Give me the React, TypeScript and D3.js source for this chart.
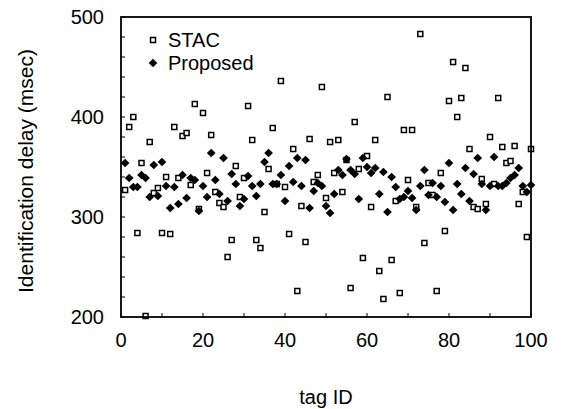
import React from "react";
import * as d3 from "d3";

const tagIds: number[] = Array.from({ length: 100 }, (_, i) => i + 1);

const stacValues: number[] = [
  327, 390, 400, 284, 354, 201, 375, 324, 329, 284,
  340, 283, 390, 339, 381, 384, 332, 413, 308, 404,
  344, 382, 325, 314, 310, 260, 277, 351, 320, 339,
  411, 377, 277, 269, 305, 348, 389, 333, 436, 330,
  283, 368, 226, 311, 275, 378, 335, 342, 430, 319,
  375, 344, 377, 325, 357, 229, 395, 348, 259, 361,
  310, 377, 246, 218, 420, 257, 316, 224, 387, 337,
  387, 310, 483, 274, 334, 322, 226, 344, 286, 416,
  455, 400, 419, 449, 368, 310, 308, 338, 313, 380,
  333, 419, 370, 354, 356, 371, 313, 325, 280, 368,
];

const proposedValues: number[] = [
  354, 339, 330, 330, 342, 339, 320, 352, 321, 355,
  331, 309, 330, 313, 342, 319, 339, 337, 306, 331,
  320, 364, 337, 323, 359, 316, 343, 333, 311, 318,
  341, 331, 321, 333, 355, 364, 333, 333, 342, 316,
  351, 335, 359, 331, 357, 309, 326, 334, 331, 311,
  304, 323, 347, 342, 358, 347, 343, 318, 359, 350,
  344, 349, 323, 345, 305, 340, 330, 318, 320, 326,
  319, 307, 331, 347, 322, 334, 320, 331, 315, 354,
  307, 333, 323, 349, 316, 343, 359, 333, 307, 331,
  360, 331, 331, 334, 339, 342, 349, 331, 325, 332,
];

const xTickLabels: number[] = [0, 20, 40, 60, 80, 100];
const yTickLabels: number[] = [200, 300, 400, 500];
const seriesNames: string[] = ["STAC", "Proposed"];

export default function App() {
  const W = 561;
  const H = 409;
  const left = 121;
  const right = 531;
  const top = 17;
  const bottom = 317;

  const x = d3.scaleLinear().domain([0, 100]).range([left, right]);
  const y = d3.scaleLinear().domain([200, 500]).range([bottom, top]);

  const squarePath = d3.symbol(d3.symbolSquare, 25)() as string;
  const diamondPath = d3.symbol(d3.symbolSquare, 38)() as string;

  const xMinor = d3.range(0, 101, 10);
  const yMinor = d3.range(200, 501, 20);

  const font = "'Liberation Sans', Arial, sans-serif";
  const fs = 20;

  return (
    <svg
      width={W}
      height={H}
      style={{ position: "absolute", left: 0, top: 0, background: "#fff" }}
      fontFamily={font}
    >
      <rect x={0} y={0} width={W} height={H} fill="#fff" />
      {yMinor.map((t) => (
        <line key={"yt" + t} x1={left} x2={left + 4} y1={y(t)} y2={y(t)} stroke="#000" strokeWidth={1} />
      ))}
      {xMinor.map((t) => (
        <line key={"xt" + t} x1={x(t)} x2={x(t)} y1={bottom} y2={bottom - 4} stroke="#000" strokeWidth={1} />
      ))}
      {stacValues.map((v, i) => (
        <path
          key={"s" + i}
          d={squarePath}
          transform={`translate(${x(tagIds[i])},${y(v)})`}
          fill="#fff"
          stroke="#000"
          strokeWidth={1.5}
        />
      ))}
      {proposedValues.map((v, i) => (
        <path
          key={"p" + i}
          d={diamondPath}
          transform={`translate(${x(tagIds[i])},${y(v)}) rotate(45)`}
          fill="#000"
        />
      ))}
      <rect x={left} y={top} width={right - left} height={bottom - top} fill="none" stroke="#000" strokeWidth={1.8} />
      {yTickLabels.map((t) => (
        <text key={"yl" + t} x={104} y={y(t)} dy="0.35em" textAnchor="end" fontSize={fs} fill="#000">
          {t}
        </text>
      ))}
      {xTickLabels.map((t) => (
        <text key={"xl" + t} x={x(t)} y={340} dy="0.35em" textAnchor="middle" fontSize={fs} fill="#000">
          {t}
        </text>
      ))}
      <text
        transform={`translate(26,${(top + bottom) / 2 + 4}) rotate(-90)`}
        dy="0.35em"
        textAnchor="middle"
        fontSize={21}
        fill="#000"
      >
        Identification delay (msec)
      </text>
      <text x={(left + right) / 2} y={397} dy="0.35em" textAnchor="middle" fontSize={fs} fill="#000">
        tag ID
      </text>
      <path d={squarePath} transform="translate(153,40)" fill="#fff" stroke="#000" strokeWidth={1.5} />
      <text x={168} y={40} dy="0.35em" fontSize={fs} fill="#000">{seriesNames[0]}</text>
      <path d={diamondPath} transform="translate(153,63) rotate(45)" fill="#000" />
      <text x={168} y={63} dy="0.35em" fontSize={fs} fill="#000">{seriesNames[1]}</text>
    </svg>
  );
}
